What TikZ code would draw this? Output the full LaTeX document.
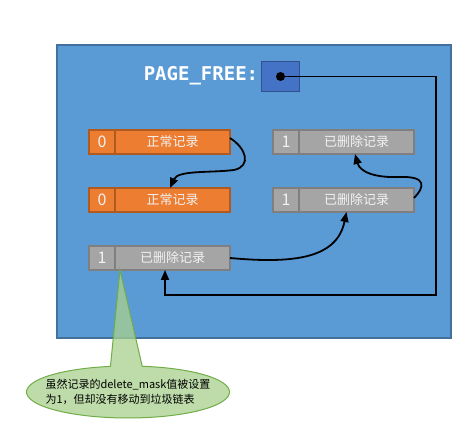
\documentclass[tikz,border=0pt]{standalone}
\usepackage{fontspec}
\setmainfont{Noto Sans CJK SC}
\setmonofont{DejaVu Sans Mono}
\usepackage{tikz}
\usetikzlibrary{positioning}
\usetikzlibrary{shapes.callouts}
\usetikzlibrary{arrows.meta}
\definecolor{boardblue}{RGB}{91,155,213}
\definecolor{boardline}{RGB}{65,113,156}
\definecolor{recorange}{RGB}{237,125,49}
\definecolor{recorangeline}{RGB}{174,90,33}
\definecolor{recgray}{RGB}{165,165,165}
\definecolor{recgrayline}{RGB}{127,127,127}
\definecolor{ptrblue}{RGB}{68,114,196}
\definecolor{ptrline}{RGB}{47,82,143}
\definecolor{notegreen}{RGB}{169,209,142}
\definecolor{notegreenline}{RGB}{112,173,71}
\tikzset{
    board/.style={draw=boardline, fill=boardblue, line width=1.5pt, inner sep=0pt},
    flagcell/.style={draw, line width=1.8pt, outer sep=0pt, inner sep=0pt,
        minimum width=26pt, minimum height=24pt, text=white!95!black,
        font=\fontsize{16}{16}\selectfont},
    bodycell/.style={flagcell, minimum width=115pt, font=\fontsize{13}{13}\selectfont},
    live/.style={fill=recorange, draw=recorangeline},
    dead/.style={fill=recgray, draw=recgrayline},
    link/.style={draw=black, line width=1.8pt, -{Triangle[length=10pt,width=8pt]}},
}

\begin{document}
\begin{tikzpicture}[x=1pt, y=-1pt]
	\useasboundingbox[fill=white] (0,0) rectangle (474,427);
	\node[board, minimum width=394pt, minimum height=293pt] (page) at (254,191.5) {};
	\node[text=white, font=\ttfamily\bfseries\fontsize{19}{19}\selectfont] (pflabel) at (201,76) {PAGE\_FREE:};
	\node[draw=ptrline, fill=ptrblue, line width=1.5pt, minimum width=38pt, minimum height=30pt] (pfbox) at (280.5,76.5) {};
	\fill (pfbox.center) circle (4.5pt);
	% records
	\node[flagcell, live] (r1flag) at (102,142) {0};
	\node[bodycell, live, right=0pt of r1flag] (r1body) {正常记录};
	\node[flagcell, live] (r2flag) at (102,200) {0};
	\node[bodycell, live, right=0pt of r2flag] (r2body) {正常记录};
	\node[flagcell, dead] (r3flag) at (286,142) {1};
	\node[bodycell, dead, right=0pt of r3flag] (r3body) {已删除记录};
	\node[flagcell, dead] (r4flag) at (286,200) {1};
	\node[bodycell, dead, right=0pt of r4flag] (r4body) {已删除记录};
	\node[flagcell, dead] (r5flag) at (102,258) {1};
	\node[bodycell, dead, right=0pt of r5flag] (r5body) {已删除记录};
	% links
	\coordinate (turn) at (436,295);
	\draw[link] (pfbox.center) -| (turn) -| ([xshift=-7.5pt]r5body.south);
	\draw[link] ([yshift=4pt]r1body.east) .. controls (246,148) and (252,166) .. (234,170)
		.. controls (210,173) and (178,170) .. ([xshift=-2.5pt]r2body.north);
	\draw[link] (r5body.east) .. controls (295,264) and (337,258) .. ([xshift=-10pt]r4body.south);
	\draw[link] ([yshift=2pt]r4body.east) .. controls (424,188) and (428,176) .. (400,177)
		.. controls (375,178) and (360,172) .. ([xshift=-1.5pt]r3body.south);
	% note
	\node[ellipse callout, draw=notegreenline, fill=notegreen, fill opacity=0.75, text opacity=1,
		line width=1pt, minimum width=203pt, minimum height=52pt, inner xsep=-14pt, inner ysep=0pt,
		callout absolute pointer={([xshift=5pt]r5flag.south east)}, callout pointer arc=18,
		align=left, font=\fontsize{11}{15}\selectfont] (note) at (128,392)
		{虽然记录的delete\_mask值被设置\\为1，但却没有移动到垃圾链表};
\end{tikzpicture}
\end{document}
